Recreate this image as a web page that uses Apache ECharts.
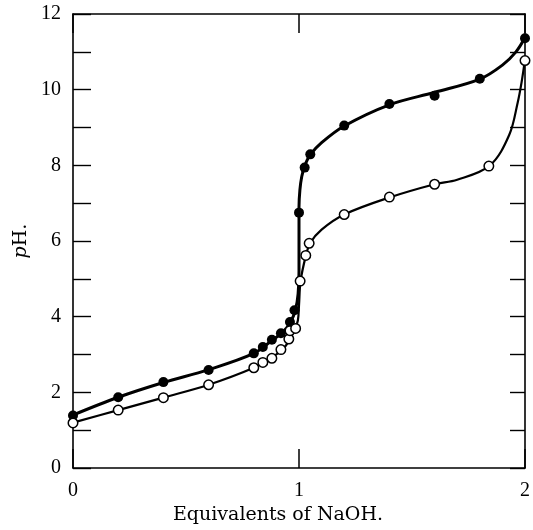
<!DOCTYPE html>
<html>
<head>
<meta charset="utf-8">
<script src="https://cdn.jsdelivr.net/npm/echarts@6/dist/echarts.min.js"></script>
<style>html,body{margin:0;padding:0;background:#fff;}#c{width:533px;height:530px;}</style>
</head>
<body>
<div id="c"></div>
<script>
// Observed points: filled circles
var filledX = [0, 0.2, 0.4, 0.6, 0.8, 0.84, 0.88, 0.92, 0.96, 0.98, 1.0, 1.025, 1.05, 1.2, 1.4, 1.6, 1.8, 2.0];
var filledY = [1.39, 1.87, 2.27, 2.59, 3.03, 3.2, 3.39, 3.56, 3.86, 4.17, 6.75, 7.94, 8.29, 9.05, 9.62, 9.84, 10.29, 11.36];
// Observed points: open circles
var openX = [0, 0.2, 0.4, 0.6, 0.8, 0.84, 0.88, 0.92, 0.955, 0.96, 0.985, 1.005, 1.03, 1.045, 1.2, 1.4, 1.6, 1.84, 2.0];
var openY = [1.19, 1.53, 1.86, 2.2, 2.65, 2.79, 2.9, 3.13, 3.41, 3.63, 3.69, 4.94, 5.62, 5.94, 6.70, 7.16, 7.5, 7.98, 10.77];
// Drawn (fitted) curves
var filledCurveX = [0, 0.2, 0.4, 0.6, 0.8, 0.88, 0.93, 0.965, 0.985, 0.996, 1.0, 1.0, 1.0, 1.004, 1.012, 1.025, 1.05, 1.1, 1.2, 1.4, 1.6, 1.8, 1.9, 1.96, 2.0];
var filledCurveY = [1.4, 1.87, 2.26, 2.6, 3.03, 3.37, 3.6, 3.88, 4.2, 4.6, 5.2, 6.2, 6.9, 7.35, 7.7, 7.98, 8.28, 8.6, 9.04, 9.6, 9.93, 10.28, 10.65, 11.0, 11.38];
var openCurveX = [0, 0.2, 0.4, 0.6, 0.8, 0.88, 0.93, 0.96, 0.98, 0.995, 1.0, 1.007, 1.03, 1.05, 1.1, 1.2, 1.4, 1.6, 1.7, 1.845, 1.93, 1.968, 1.985, 2.0];
var openCurveY = [1.2, 1.53, 1.86, 2.2, 2.65, 2.92, 3.15, 3.4, 3.65, 3.9, 4.3, 4.94, 5.6, 5.95, 6.3, 6.7, 7.15, 7.5, 7.62, 8.0, 8.8, 9.67, 10.2, 10.8];
var xTicks = [0, 1, 2];
var yTicks = [0, 2, 4, 6, 8, 10, 12];

function pairs(xs, ys) { return xs.map(function (x, i) { return [x, ys[i]]; }); }

var FONT = 'Liberation Serif';
var NAMEFONT = 'DejaVu Serif';
var chart = echarts.init(document.getElementById('c'), null, {renderer: 'canvas'});
var axisLine = {show: true, onZero: false, lineStyle: {color: '#000', width: 1.6}};
chart.setOption({
  animation: false,
  backgroundColor: '#fff',
  grid: {left: 73, right: 3, top: 14, bottom: 57, containLabel: false},
  xAxis: [{
    type: 'value', min: xTicks[0], max: xTicks[xTicks.length - 1], interval: 1,
    axisLine: axisLine,
    axisTick: {show: true, inside: true, length: 19, lineStyle: {color: '#000', width: 1.5}},
    splitLine: {show: false},
    axisLabel: {color: '#000', fontFamily: FONT, fontSize: 20, margin: 13},
    name: 'Equivalents of NaOH.', nameLocation: 'middle', nameGap: 38,
    nameTextStyle: {color: '#000', fontFamily: NAMEFONT, fontSize: 19, padding: [0, 42, 0, 0]}
  }, {
    type: 'value', position: 'top', min: 0, max: 2, interval: 1,
    axisLine: axisLine,
    axisTick: {show: true, inside: true, length: 19, lineStyle: {color: '#000', width: 1.5}},
    axisLabel: {show: false}, splitLine: {show: false}
  }],
  yAxis: [{
    type: 'value', min: 0, max: 12, interval: 1,
    axisLine: axisLine,
    axisTick: {show: true, inside: true, length: 18, lineStyle: {color: '#000', width: 1.4}},
    splitLine: {show: false},
    axisLabel: {color: '#000', fontFamily: FONT, fontSize: 20, margin: 12,
      formatter: function (v) { return yTicks.indexOf(v) >= 0 ? String(v) : ''; }},
    name: '{i|p}H.', nameLocation: 'middle', nameGap: 38, nameRotate: 90,
    nameTextStyle: {color: '#000', fontFamily: NAMEFONT, fontSize: 19,
      rich: {i: {fontStyle: 'italic', fontFamily: NAMEFONT, fontSize: 19, color: '#000'}}}
  }, {
    type: 'value', position: 'right', min: 0, max: 12, interval: 1,
    axisLine: axisLine,
    axisTick: {show: true, inside: true, length: 15, lineStyle: {color: '#000', width: 1.4}},
    axisLabel: {show: false}, splitLine: {show: false}
  }],
  series: [{
    type: 'line', data: pairs(filledCurveX, filledCurveY), smooth: 0.35, showSymbol: false,
    lineStyle: {color: '#000', width: 3}, z: 2
  }, {
    type: 'line', data: pairs(openCurveX, openCurveY), smooth: 0.35, showSymbol: false,
    lineStyle: {color: '#000', width: 2.2}, z: 2
  }, {
    type: 'scatter', data: pairs(filledX, filledY), symbol: 'circle', symbolSize: 10,
    itemStyle: {color: '#000', borderColor: '#000', borderWidth: 0, opacity: 1}, z: 3
  }, {
    type: 'scatter', data: pairs(openX, openY), symbol: 'circle', symbolSize: 9.5,
    itemStyle: {color: '#fff', borderColor: '#000', borderWidth: 1.5, opacity: 1}, z: 4
  }]
});
</script>
</body>
</html>
